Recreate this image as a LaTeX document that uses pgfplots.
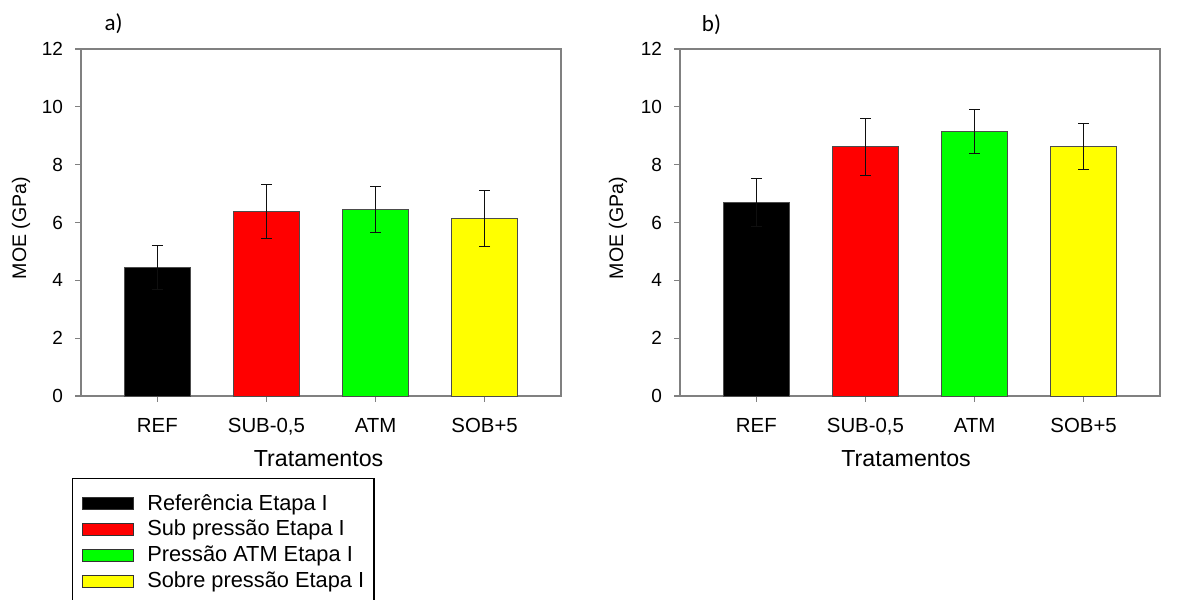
\documentclass[border=0pt]{standalone}
\usepackage{fontspec}
\setmainfont{Liberation Sans}
\newfontfamily\calibri{Carlito}
\usepackage{pgfplots}
\pgfplotsset{compat=1.18}

\definecolor{barred}{RGB}{255,0,0}
\definecolor{bargreen}{RGB}{0,255,0}
\definecolor{baryellow}{RGB}{255,255,0}
\definecolor{framegray}{RGB}{128,128,128}
\definecolor{errgray}{RGB}{15,15,15}

\pgfplotsset{
  panel/.style={
    scale only axis, width=240pt, height=173.5pt,
    xmin=-0.7, xmax=3.7, ymin=0, ymax=12,
    ytick={0,2,4,6,8,10,12},
    xtick={0,1,2,3},
    xticklabels={REF,{SUB-0,5},ATM,SOB+5},
    tick pos=left, tick align=outside,
    major tick length=2.8pt,
    axis line style={draw=framegray, line width=0.65pt},
    tick style={draw=framegray, line width=0.65pt},
    /pgf/number format/assume math mode=true,
    yticklabel style={font=\fontsize{9.5}{11}\selectfont},
    xticklabel style={font=\fontsize{10.2}{12}\selectfont},
    xticklabel style={inner sep=0pt, anchor=north, yshift=-8pt},
    yticklabel style={inner sep=0pt, anchor=east, xshift=-6pt},
    xlabel={Tratamentos},
    ylabel={MOE (GPa)},
    xlabel style={font=\fontsize{11.6}{14}\selectfont, anchor=center},
    ylabel style={font=\fontsize{9.8}{12}\selectfont, anchor=center},
    ybar, bar width=0.6,
    legend image code/.code={\draw[#1, draw=black!80] (0pt,-2.8pt) rectangle (25.5pt,2.8pt);},
  },
  bstyle/.style={bar shift=0pt, draw=black!70, line width=0.5pt,
    error bars/y dir=both, error bars/y explicit,
    error bars/error bar style={draw=errgray, line width=0.5pt},
    error bars/error mark options={rotate=90, mark size=2.7pt, draw=errgray, line width=0.5pt}},
}

\begin{document}
\begin{tikzpicture}
\path[use as bounding box] (0pt,0pt) rectangle (592pt,300pt);

\begin{axis}[panel, at={(40.5pt,102pt)}, anchor=south west,
  xlabel style={at={(axis description cs:0.495,-0.1816)}},
  ylabel style={at={(axis description cs:-0.125,0.484)}},
  legend cell align=left,
  legend style={at={(axis description cs:-0.019,-0.236)}, anchor=north west,
    draw=black, line width=0.7pt,
    font=\fontsize{10.9}{13}\selectfont,
    inner xsep=4.85pt, inner ysep=6pt,
    nodes={inner xsep=0pt, inner ysep=0pt, minimum height=13pt},
    column sep=6.5pt, row sep=0pt},
]
\addplot[bstyle, fill=black] coordinates {(0,4.45) +- (0,0.77)};
\addlegendentry{Referência Etapa I}
\addplot[bstyle, fill=barred] coordinates {(1,6.37) +- (0,0.94)};
\addlegendentry{Sub pressão Etapa I}
\addplot[bstyle, fill=bargreen] coordinates {(2,6.44) +- (0,0.80)};
\addlegendentry{Pressão ATM Etapa I}
\addplot[bstyle, fill=baryellow] coordinates {(3,6.14) +- (0,0.98)};
\addlegendentry{Sobre pressão Etapa I}
\end{axis}

\begin{axis}[panel, at={(340pt,102pt)}, anchor=south west,
  xlabel style={at={(axis description cs:0.471,-0.1816)}},
  ylabel style={at={(axis description cs:-0.129,0.484)}},
]
\addplot[bstyle, fill=black] coordinates {(0,6.70) +- (0,0.83)};
\addplot[bstyle, fill=barred] coordinates {(1,8.62) +- (0,0.98)};
\addplot[bstyle, fill=bargreen] coordinates {(2,9.15) +- (0,0.76)};
\addplot[bstyle, fill=baryellow] coordinates {(3,8.64) +- (0,0.80)};
\end{axis}

\node[font=\calibri\fontsize{11.5}{13}\selectfont] at (56.75pt,288pt) {a)};
\node[font=\calibri\fontsize{11.5}{13}\selectfont] at (355.75pt,287.5pt) {b)};
\end{tikzpicture}
\end{document}
